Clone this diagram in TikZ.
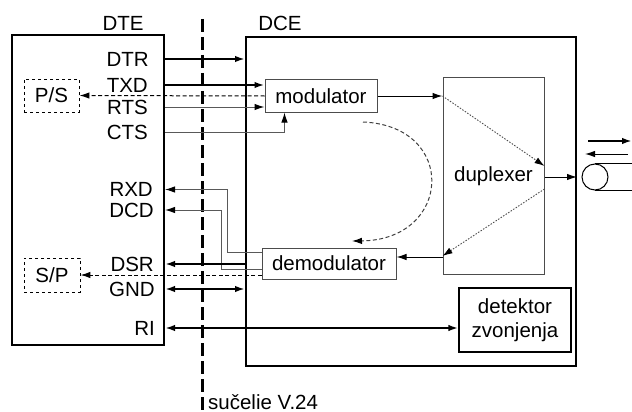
\documentclass[tikz,border=0pt]{standalone}
\usepackage{fontspec}
\setmainfont{Liberation Sans}
\usetikzlibrary{arrows.meta}
\begin{document}
\begin{tikzpicture}[x=1pt,y=-1pt,
  font=\fontsize{20.5}{24}\selectfont,
  >={Latex[length=10pt,width=6.5pt,color=black]},
  gbox/.style={draw=black!70,line width=1pt,inner sep=0pt},
  dbox/.style={draw,dashed,line width=0.9pt,inner sep=0pt},
  lbl/.style={anchor=east,inner sep=0pt},
  thk/.style={line width=2pt},
  sig/.style={line width=1pt,draw=black!65},
  thn/.style={line width=1pt},
  dsh/.style={line width=1pt,dash pattern=on 4pt off 2.5pt},
  dot/.style={line width=0.9pt,draw=black!70,dash pattern=on 1.5pt off 1.5pt},
  ]
\useasboundingbox (0,0) rectangle (632,412);
% main boxes
\node[draw,line width=2pt,minimum width=152pt,minimum height=310pt,inner sep=0pt] (dte) at (88,190) {};
\node[draw,line width=2pt,minimum width=330pt,minimum height=329pt,inner sep=0pt] (dce) at (411,201.5) {};
\node (dtet) at (123,23) {DTE};
\node (dcet) at (280,23) {DCE};
% inner boxes
\node[dbox,minimum width=55pt,minimum height=33pt] (ps) at (51.5,95.5) {P/S};
\node[dbox,minimum width=56pt,minimum height=34pt] (sp) at (52,275) {S/P};
\node[gbox,minimum width=112pt,minimum height=32pt] (mod) at (321,96) {modulator};
\node[gbox,minimum width=134pt,minimum height=31pt] (demod) at (329,263.5) {demodulator};
\node[gbox,minimum width=101pt,minimum height=196pt] (dup) at (493.5,176) {duplexer};
\node[draw,line width=1.2pt,minimum width=112pt,minimum height=64pt,inner sep=0pt,align=center] (det) at (515,320) {detektor\\zvonjenja};
\node[circle,draw,line width=1pt,minimum size=26pt,inner sep=0pt] (circ) at (595,177) {};
% labels
\node[lbl] (dtr) at (149,59) {DTR};
\node[lbl] (txd) at (148,85) {TXD};
\node[lbl] (rts) at (148,107) {RTS};
\node[lbl] (cts) at (148,132) {CTS};
\node[lbl] (rxd) at (153,189.5) {RXD};
\node[lbl] (dcd) at (154,210) {DCD};
\node[lbl] (dsr) at (154,264) {DSR};
\node[lbl] (gnd) at (155,289) {GND};
\node[lbl] (ri) at (155,328) {RI};
% interface line
\coordinate (v1) at (202,19);
\coordinate (v2) at (202,412);
\draw[line width=3pt,dash pattern=on 13pt off 5pt] (v1) -- (v2);
\node[anchor=base west,inner sep=0pt] (suc) at (208,409) {sučelie V.24};
% DTE -> DCE signals
\draw[thk,->] (dte.east |- dtr) -- (dce.west |- dtr);
\draw[thk,->] (dte.east |- txd) -- (mod.west |- txd);
\draw[dsh,->] (mod.west) -- (ps.east);
\draw[sig,->] (dte.east |- rts) -- (mod.west |- rts);
\draw[sig,->] (dte.east |- cts) -| ([xshift=20pt]mod.south west);
% modulator -> duplexer
\coordinate (dupin) at (dup.west |- mod.east);
\draw[thn,->] (mod.east) -- (dupin);
\coordinate (dupr1) at ([yshift=10pt]dup.east);
\draw[dot,->] (dupin) -- (dupr1);
\coordinate (dupr2) at ([yshift=-13pt]dup.east);
\coordinate (dupl2) at ([yshift=-80pt]dup.west);
\draw[dot,->] (dupr2) -- (dupl2);
\coordinate (rx) at ([yshift=-81pt]dup.west);
\draw[thn,->] (rx) -- (rx -| demod.east);
% line output
\draw[thn,->] (dup.east |- circ) -- (dce.east |- circ);
\draw[line width=1.6pt] (circ.north) -- +(37,0);
\draw[thn] (circ.south) -- +(37,0);
\coordinate (a1) at (588,141);
\coordinate (a2) at (632,141);
\coordinate (b1) at (628,154);
\coordinate (b2) at (585,154);
\draw[thk,->] (a1) -- (a2);
\draw[thn,->] (b1) -- (b2);
% loop back dashed curve
\coordinate (c1) at (363,122);
\coordinate (c2) at (352,241);
\draw[dsh,draw=black!75,->] (c1) .. controls (458,126) and (452,240) .. (c2);
% demodulator -> DTE
\coordinate (rxs) at ([yshift=11.5pt]demod.west);
\coordinate (dcs) at ([yshift=-5.5pt]demod.west);
\draw[sig,<-] (dte.east |- rxd) -| ([xshift=-34pt]rxs) -- (rxs);
\draw[sig,<-] (dte.east |- dcd) -| ([xshift=-40pt]dcs) -- (dcs);
\draw[thk,->] (dce.west |- dsr) -- (dte.east |- dsr);
\draw[dsh,->] (sp.east -| demod.west) -- (sp.east);
\draw[thk,<->] (dte.east |- gnd) -- (dce.west |- gnd);
\draw[thk,<->] (dte.east |- ri) -- (det.west |- ri);
\end{tikzpicture}
\end{document}
